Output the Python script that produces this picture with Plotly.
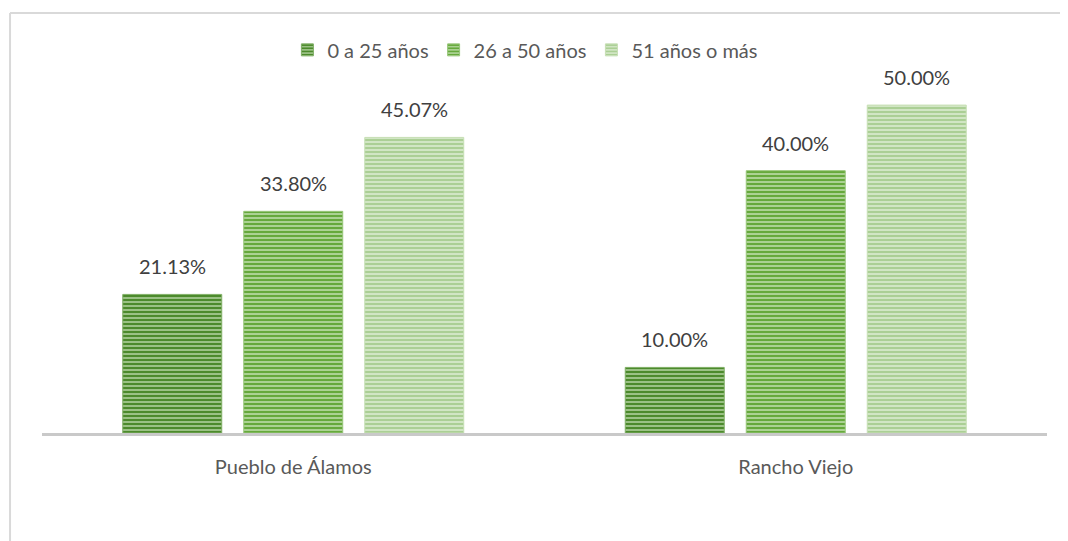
import plotly.graph_objects as go

categories = ["Pueblo de Álamos", "Rancho Viejo"]
series_names = ["0 a 25 años", "26 a 50 años", "51 años o más"]
values_0_25 = [21.13, 10.00]
values_26_50 = [33.80, 40.00]
values_51 = [45.07, 50.00]

series_values = [values_0_25, values_26_50, values_51]
fg_colors = ["#4C8A2C", "#66A93C", "#ABCF95"]
bg_colors = ["#CFE6C0", "#DAEDCD", "#EBF5E4"]
edge_colors = ["#7FAE65", "#98C67A", "#C6DFB4"]

FONT = "Lato"

# plot area (figure px); page body adds an 8px offset
L, R, T, B = 34, 29, 82, 116
PLOT_W = 1068 - L - R
BARGAP = 0.2776
SLOT_PX = PLOT_W / len(categories) * (1 - BARGAP) / 3

fig = go.Figure()
for i, (name, vals, fg, bg, ec) in enumerate(zip(series_names, series_values, fg_colors, bg_colors, edge_colors)):
    fig.add_trace(go.Bar(
        x=categories, y=vals, name=name,
        marker=dict(
            color=bg,
            line=dict(color=ec, width=1),
            pattern=dict(shape="-", fgcolor=fg, bgcolor=bg, size=4, solidity=0.7, fillmode="replace"),
        ),
    ))
    for c, v in zip(categories, vals):
        fig.add_annotation(
            x=c, y=v, text=f"{v:.2f}%", showarrow=False,
            xref="x", yref="y", xanchor="center", yanchor="bottom",
            xshift=(i - 1) * SLOT_PX, yshift=14,
            font=dict(family=FONT, size=20, color="#404040"),
        )

fig.update_layout(
    width=1068, height=541,
    margin=dict(l=L, r=R, t=T, b=B),
    paper_bgcolor="white", plot_bgcolor="white",
    barmode="group", bargap=BARGAP, bargroupgap=0.182,
    showlegend=True,
    legend=dict(orientation="h", x=0.481, xanchor="center", y=1.117, yanchor="middle",
                font=dict(family=FONT, size=20, color="#595959"),
                traceorder="normal"),
    font=dict(family=FONT, size=20, color="#595959"),
    xaxis=dict(showline=True, linecolor="#C9C9C9", linewidth=3, ticks="",
               ticklabelstandoff=14,
               tickfont=dict(family=FONT, size=20, color="#595959")),
    yaxis=dict(range=[0, 52.3], visible=False, showgrid=False, zeroline=False),
    shapes=[
        dict(type="line", xref="paper", yref="paper", x0=-0.0318, x1=1.04, y0=1.2245, y1=1.2245,
             line=dict(color="#D9D9D9", width=2)),
        dict(type="line", xref="paper", yref="paper", x0=-0.0318, x1=-0.0318, y0=1.2245, y1=-0.40,
             line=dict(color="#D9D9D9", width=2)),
    ],
)

fig.write_html("out.html")
